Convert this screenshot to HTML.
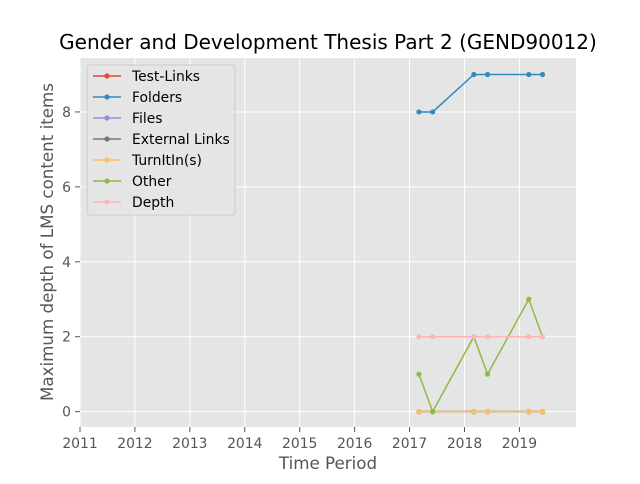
<!DOCTYPE html>
<html><head><meta charset="utf-8"><style>
body{margin:0;background:#fff;font-family:"DejaVu Sans","Liberation Sans",sans-serif}
svg text{font-family:"DejaVu Sans","Liberation Sans",sans-serif}
</style></head><body>
<svg id="c" width="640" height="480" xmlns="http://www.w3.org/2000/svg"></svg>
<script>
const xTicks=[2011,2012,2013,2014,2015,2016,2017,2018,2019];
const yTicks=[0,2,4,6,8];
const xs=[2017.17,2017.42,2018.17,2018.42,2019.17,2019.42];
const seriesNames=["Test-Links","Folders","Files","External Links","TurnItIn(s)","Other","Depth"];
const seriesColors=["#E24A33","#348ABD","#988ED5","#777777","#FBC15E","#8EBA42","#FFB5B8"];
const testLinks=[0,0,0,0,0,0];
const folders=[8,8,9,9,9,9];
const files=[0,0,0,0,0,0];
const external=[0,0,0,0,0,0];
const turnitin=[0,0,0,0,0,0];
const other=[1,0,2,1,3,2];
const depth=[2,2,2,2,2,2];
const allSeries=[testLinks,folders,files,external,turnitin,other,depth];

const L=80,R=576,T=58,B=427;
const xMin=2011,xMax=2020.03,yMin=-0.41,yMax=9.44;
const X=v=>L+(v-xMin)/(xMax-xMin)*(R-L);
const Y=v=>B-(v-yMin)/(yMax-yMin)*(B-T);
const svg=document.getElementById('c');
const NS="http://www.w3.org/2000/svg";
function mk(tag,attrs,parent){const e=document.createElementNS(NS,tag);for(const k in attrs)e.setAttribute(k,attrs[k]);(parent||svg).appendChild(e);return e;}

const bg=mk('rect',{x:L,y:T,width:R-L,height:B-T,fill:'#E5E5E5'});



xTicks.forEach(t=>{
  const g=mk('line',{x1:X(t),x2:X(t),y1:T,y2:B,stroke:'#fff','stroke-width':1});
  
  
  const tk=mk('line',{x1:X(t),x2:X(t),y1:B,y2:B+5,stroke:'#555'});
  
  
  const tx=mk('text',{x:X(t),y:B+21,'text-anchor':'middle','font-size':13.9,fill:'#555'});
  tx.textContent=t;
  
  
});
yTicks.forEach(t=>{
  const g=mk('line',{x1:L,x2:R,y1:Y(t),y2:Y(t),stroke:'#fff','stroke-width':1});
  
  
  const tk=mk('line',{x1:L-5,x2:L,y1:Y(t),y2:Y(t),stroke:'#555'});
  
  
  const tx=mk('text',{x:L-9,y:Y(t)+5,'text-anchor':'end','font-size':13.9,fill:'#555'});
  tx.textContent=t;
  
  
});

allSeries.forEach((s,i)=>{
  const pts=s.map((v,j)=>X(xs[j])+','+Y(v)).join(' ');
  const pl=mk('polyline',{points:pts,fill:'none',stroke:seriesColors[i],'stroke-width':1.5});
  
  
  s.forEach((v,j)=>{
    const c=mk('circle',{cx:X(xs[j]),cy:Y(v),r:2.6,fill:seriesColors[i]});
    
    
  });
});

const lg=mk('rect',{x:87,y:65,width:148,height:150,rx:3,fill:'#E5E5E5',stroke:'#ccc','fill-opacity':0.8});


seriesNames.forEach((n,i)=>{
  const y=76+i*21;
  const l=mk('line',{x1:93,x2:121,y1:y,y2:y,stroke:seriesColors[i],'stroke-width':1.5});
  
  
  const c=mk('circle',{cx:107,cy:y,r:2.6,fill:seriesColors[i]});
  
  
  const t=mk('text',{x:132,y:y+5,'font-size':13.9,fill:'#000'});
  t.textContent=n;
  
  
});

const title=mk('text',{x:328,y:49,'text-anchor':'middle','font-size':20,fill:'#000'});
title.textContent="Gender and Development Thesis Part 2 (GEND90012)";


const xl=mk('text',{x:328,y:469,'text-anchor':'middle','font-size':16.7,fill:'#555'});
xl.textContent="Time Period";


const yl=mk('text',{x:0,y:0,'text-anchor':'middle','font-size':16.7,fill:'#555',transform:'translate(53,242) rotate(-90)'});
yl.textContent="Maximum depth of LMS content items";


</script>
</body></html>
